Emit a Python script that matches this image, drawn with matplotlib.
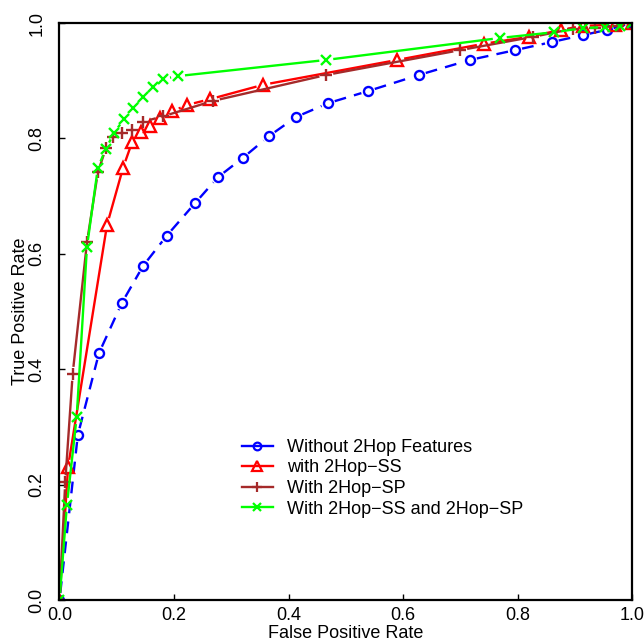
import numpy as np
import matplotlib
matplotlib.use("Agg")
import matplotlib.pyplot as plt
from matplotlib.lines import Line2D

plt.rcParams['font.family'] = ['Liberation Sans', 'DejaVu Sans']

# ---- data ----
fpr_without = [0.0, 0.032, 0.069, 0.109, 0.146, 0.187, 0.237, 0.277, 0.320, 0.366, 0.413,
               0.469, 0.539, 0.628, 0.717, 0.796, 0.860, 0.914, 0.956, 1.0]
tpr_without = [0.0, 0.286, 0.428, 0.515, 0.579, 0.631, 0.688, 0.733, 0.766, 0.804, 0.837,
               0.861, 0.882, 0.910, 0.936, 0.953, 0.967, 0.979, 0.988, 1.0]

fpr_ss = [0.0, 0.015, 0.083, 0.111, 0.127, 0.142, 0.158, 0.176, 0.197, 0.223, 0.263,
          0.356, 0.590, 0.741, 0.820, 0.876, 0.914, 0.970, 1.0]
tpr_ss = [0.0, 0.231, 0.650, 0.749, 0.794, 0.811, 0.821, 0.835, 0.847, 0.858, 0.868,
          0.893, 0.936, 0.964, 0.976, 0.988, 0.995, 0.997, 1.0]

fpr_sp = [0.0, 0.010, 0.023, 0.048, 0.067, 0.081, 0.094, 0.110, 0.126, 0.146, 0.180,
          0.268, 0.466, 0.700, 0.827, 0.897, 0.935, 0.975, 1.0]
tpr_sp = [0.0, 0.204, 0.392, 0.620, 0.741, 0.783, 0.803, 0.810, 0.815, 0.829, 0.838,
          0.865, 0.910, 0.953, 0.976, 0.990, 0.992, 0.995, 1.0]

fpr_both = [0.0, 0.013, 0.030, 0.048, 0.067, 0.081, 0.095, 0.113, 0.129, 0.146, 0.164,
            0.181, 0.207, 0.466, 0.769, 0.864, 0.914, 0.953, 0.979, 1.0]
tpr_both = [0.0, 0.165, 0.317, 0.612, 0.749, 0.782, 0.809, 0.834, 0.852, 0.872, 0.889,
            0.903, 0.908, 0.936, 0.974, 0.984, 0.991, 0.993, 0.995, 1.0]

labels = ["Without 2Hop Features", "with 2Hop\u2212SS", "With 2Hop\u2212SP",
          "With 2Hop\u2212SS and 2Hop\u2212SP"]
colors = ["#0000FF", "#FF0000", "#A52A2A", "#00FF00"]
markers = ["o", "^", "+", "x"]
msizes = [6.5, 8, 8.5, 7.5]
styles = [(0, (5, 3.5)), "-", "-", "-"]
series = [(fpr_without, tpr_without), (fpr_ss, tpr_ss), (fpr_sp, tpr_sp), (fpr_both, tpr_both)]

W, H = 644, 643
fig = plt.figure(figsize=(W / 100, H / 100), dpi=100)
ax = fig.add_axes([59.5 / W, (H - 600) / H, (632 - 59.5) / W, (600 - 23) / H])
ax.set_xlim(0, 1)
ax.set_ylim(0, 1)

GAP = 7.0  # pixels: R type="b" gap around each point
inv = ax.transData.inverted()
for (xs, ys), c, m, ms, ls in zip(series, colors, markers, msizes, styles):
    pts = ax.transData.transform(np.column_stack([xs, ys]))
    for p0, p1 in zip(pts[:-1], pts[1:]):
        d = p1 - p0
        L = np.hypot(*d)
        if L <= 2 * GAP:
            continue
        u = d / L
        a = inv.transform(p0 + u * GAP)
        b = inv.transform(p1 - u * GAP)
        ax.plot([a[0], b[0]], [a[1], b[1]], color=c, lw=1.7, linestyle=ls,
                solid_capstyle='butt', dash_capstyle='butt')
    ax.plot(xs, ys, linestyle='none', marker=m, markersize=ms, mfc='none',
            mec=c, mew=1.7)

for s in ax.spines.values():
    s.set_linewidth(1.6)
    s.set_zorder(5)

ticks = [0.0, 0.2, 0.4, 0.6, 0.8, 1.0]
ax.set_xticks(ticks)
ax.set_yticks(ticks)
ax.set_xticklabels([f"{t:.1f}" for t in ticks])
ax.set_yticklabels([f"{t:.1f}" for t in ticks], rotation=90, va='center')
ax.tick_params(axis='both', direction='in', length=4, width=1, labelsize=13)
ax.tick_params(axis='x', pad=5)
ax.tick_params(axis='y', pad=10)

ax.set_xlabel("False Positive Rate", fontsize=13)
ax.xaxis.set_label_coords(0.5, -0.043)
ax.set_ylabel("True Positive Rate", fontsize=13)
ax.yaxis.set_label_coords(-0.053, 0.5)

handles = [Line2D([], [], color=c, marker=m, markersize=ms * 0.85, mfc='none', mec=c,
                  mew=1.6, lw=1.7)
           for c, m, ms in zip(colors, markers, msizes)]
ax.legend(handles, labels, loc='center left', bbox_to_anchor=(0.318, 0.211),
          frameon=False, fontsize=13, handlelength=1.75, handletextpad=0.75,
          labelspacing=0.2, borderpad=0, borderaxespad=0)

fig.savefig("out.png", dpi=100)
